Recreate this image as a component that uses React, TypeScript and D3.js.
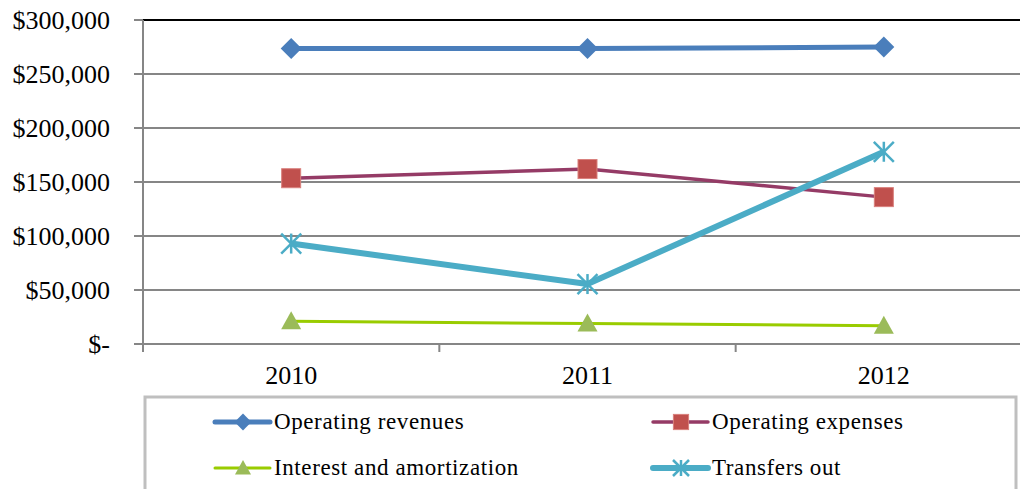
import { useEffect, useRef } from "react";
import * as d3 from "d3";

const years = ["2010", "2011", "2012"];
const operatingRevenues = [273500, 273500, 275000];
const operatingExpenses = [153500, 162000, 136000];
const interestAmortization = [21000, 19000, 17000];
const transfersOut = [93000, 55500, 178000];
const yTicks = [0, 50000, 100000, 150000, 200000, 250000, 300000];

interface Series {
  name: string;
  values: number[];
  line: string;
  fill: string;
  width: number;
  marker: "diamond" | "square" | "triangle" | "star";
}

const SERIES: Series[] = [
  { name: "Operating revenues", values: operatingRevenues, line: "#4A7EBB", fill: "#4A7EBB", width: 5, marker: "diamond" },
  { name: "Operating expenses", values: operatingExpenses, line: "#953B66", fill: "#C0504D", width: 3.5, marker: "square" },
  { name: "Interest and amortization", values: interestAmortization, line: "#99CC00", fill: "#9BBB59", width: 3, marker: "triangle" },
  { name: "Transfers out", values: transfersOut, line: "#4BACC6", fill: "#4BACC6", width: 6, marker: "star" },
];

const fmt = (v: number) => (v === 0 ? "$-" : "$" + d3.format(",")(v));

function drawMarker(g: d3.Selection<SVGGElement, unknown, null, undefined>, s: Series, x: number, y: number, k = 1) {
  if (s.marker === "diamond") {
    const r = 10.5 * k;
    g.append("path")
      .attr("d", `M${x},${y - r}L${x + r},${y}L${x},${y + r}L${x - r},${y}Z`)
      .attr("fill", s.fill);
  } else if (s.marker === "square") {
    const r = 9.5 * k;
    g.append("rect")
      .attr("x", x - r).attr("y", y - r).attr("width", 2 * r).attr("height", 2 * r)
      .attr("fill", s.fill).attr("stroke", "#D9807D").attr("stroke-width", 1);
  } else if (s.marker === "triangle") {
    const r = 10 * k;
    g.append("path")
      .attr("d", `M${x},${y - r}L${x + r},${y + r * 0.8}L${x - r},${y + r * 0.8}Z`)
      .attr("fill", s.fill);
  } else {
    const r = 10 * k;
    const p = g.append("g").attr("stroke", s.fill).attr("stroke-width", 2.5);
    p.append("line").attr("x1", x).attr("x2", x).attr("y1", y - r).attr("y2", y + r);
    p.append("line").attr("x1", x - r).attr("x2", x + r).attr("y1", y - r).attr("y2", y + r);
    p.append("line").attr("x1", x - r).attr("x2", x + r).attr("y1", y + r).attr("y2", y - r);
  }
}

export default function App() {
  const svgRef = useRef<SVGSVGElement>(null);

  useEffect(() => {
    if (!svgRef.current) return;
    const width = 1020;
    const height = 489;
    const left = 143;
    const right = 1032;
    const top = 20;
    const bottom = 344;

    const svg = d3.select(svgRef.current);
    svg.selectAll("*").remove();
    svg.attr("width", width).attr("height", height);

    const x = d3.scaleBand<string>().domain(years).range([left, right]);
    const y = d3.scaleLinear().domain([0, 300000]).range([bottom, top]);
    const cx = (d: string) => (x(d) ?? 0) + x.bandwidth() / 2;

    const root = svg.append("g").attr("font-family", "'Liberation Serif', 'Times New Roman', serif");

    // gridlines
    root.append("g")
      .selectAll("line")
      .data(yTicks.filter((t) => t > 0 && t < 300000))
      .enter()
      .append("line")
      .attr("x1", left).attr("x2", right)
      .attr("y1", (d) => y(d)).attr("y2", (d) => y(d))
      .attr("stroke", "#868686").attr("stroke-width", 2);

    root.append("line")
      .attr("x1", left).attr("x2", right)
      .attr("y1", y(300000)).attr("y2", y(300000))
      .attr("stroke", "#000").attr("stroke-width", 2);

    // y axis
    root.append("line")
      .attr("x1", left).attr("x2", left)
      .attr("y1", top).attr("y2", bottom + 8)
      .attr("stroke", "#868686").attr("stroke-width", 2);
    const yt = root.append("g").selectAll("g").data(yTicks).enter().append("g");
    yt.append("line")
      .attr("x1", left - 9).attr("x2", left)
      .attr("y1", (d) => y(d)).attr("y2", (d) => y(d))
      .attr("stroke", "#868686").attr("stroke-width", 2);
    yt.append("text")
      .attr("x", 110)
      .attr("y", (d) => y(d))
      .attr("dy", "0.33em")
      .attr("text-anchor", "end")
      .attr("font-size", 26)
      .attr("fill", "#000")
      .text((d) => fmt(d));

    // x axis
    root.append("line")
      .attr("x1", left).attr("x2", right)
      .attr("y1", bottom).attr("y2", bottom)
      .attr("stroke", "#868686").attr("stroke-width", 2);
    root.append("g")
      .selectAll("line")
      .data([...years.map((d) => x(d) ?? 0), right])
      .enter()
      .append("line")
      .attr("x1", (d) => d).attr("x2", (d) => d)
      .attr("y1", bottom).attr("y2", bottom + 8)
      .attr("stroke", "#868686").attr("stroke-width", 2);
    root.append("g")
      .selectAll("text")
      .data(years)
      .enter()
      .append("text")
      .attr("x", (d) => cx(d))
      .attr("y", 384)
      .attr("text-anchor", "middle")
      .attr("font-size", 26)
      .text((d) => d);

    // lines
    const line = d3.line<number>().x((_, i) => cx(years[i])).y((d) => y(d));
    SERIES.forEach((s) => {
      const g = root.append("g");
      g.append("path")
        .attr("d", line(s.values))
        .attr("fill", "none")
        .attr("stroke", s.line)
        .attr("stroke-width", s.width)
        .attr("stroke-linejoin", "round");
      s.values.forEach((v, i) => drawMarker(g, s, cx(years[i]), y(v)));
    });

    // legend
    root.append("rect")
      .attr("x", 145).attr("y", 397)
      .attr("width", 871).attr("height", 140)
      .attr("fill", "#fff")
      .attr("stroke", "#BFBFBF").attr("stroke-width", 3);
    const legendPos = [
      { sx: 215, ty: 422 },
      { sx: 653, ty: 422 },
      { sx: 215, ty: 468 },
      { sx: 653, ty: 468 },
    ];
    SERIES.forEach((s, i) => {
      const p = legendPos[i];
      const g = root.append("g");
      g.append("line")
        .attr("x1", p.sx).attr("x2", p.sx + 55)
        .attr("y1", p.ty).attr("y2", p.ty)
        .attr("stroke", s.line)
        .attr("stroke-width", s.width)
        .attr("stroke-linecap", "round");
      drawMarker(g, s, p.sx + 28, p.ty, 0.8);
      g.append("text")
        .attr("x", p.sx + 59)
        .attr("y", p.ty + 7)
        .attr("font-size", 23)
        .attr("letter-spacing", 0.6)
        .text(s.name);
    });
  }, []);

  return (
    <div style={{ position: "absolute", left: 0, top: 0 }}>
      <svg ref={svgRef} style={{ display: "block" }} />
    </div>
  );
}
